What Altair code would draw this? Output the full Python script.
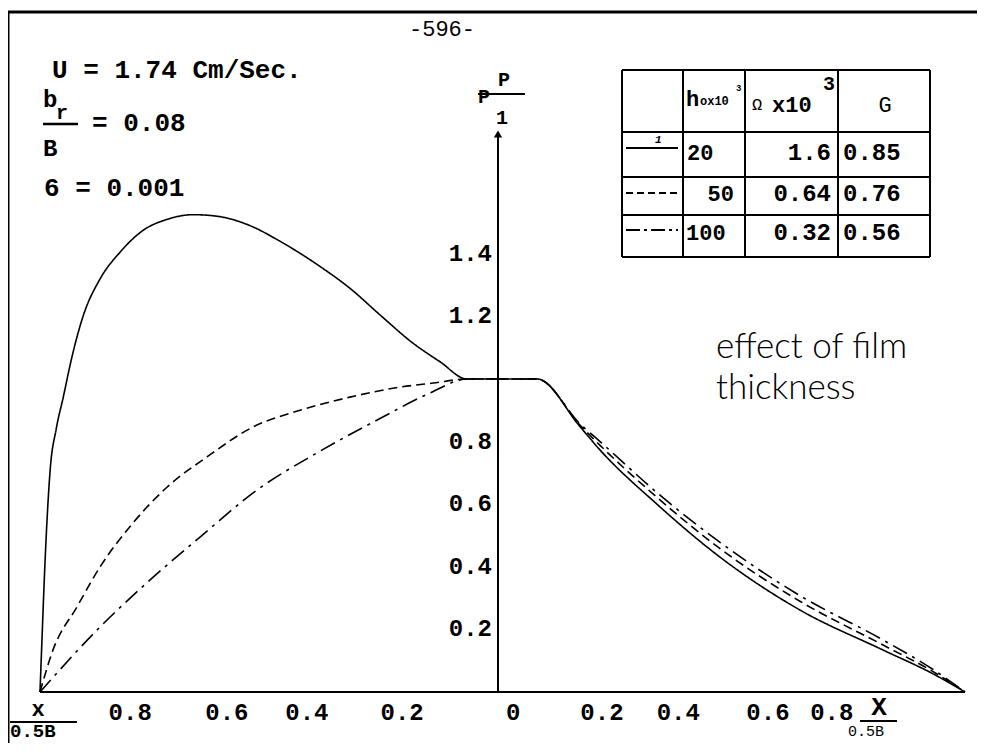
import altair as alt
import pandas as pd

# ---------------- data ----------------
# signed position along the bearing: left half negative (x/0.5B), right half positive (X/0.5B)
solid_s = [-1.0, -0.996, -0.989, -0.978, -0.965, -0.950, -0.931, -0.907, -0.870, -0.827, -0.777,
           -0.725, -0.669, -0.617, -0.546, -0.481, -0.395, -0.330, -0.265, -0.194, -0.135, -0.077,
           0.075, 0.168, 0.211, 0.334, 0.464, 0.643, 0.823, 0.931, 1.0]
solid_p = [0.0, 0.157, 0.42, 0.71, 0.84, 0.94, 1.07, 1.20, 1.32, 1.405, 1.475,
           1.51, 1.525, 1.52, 1.49, 1.44, 1.36, 1.29, 1.205, 1.115, 1.055, 1.0,
           1.0, 0.847, 0.773, 0.600, 0.438, 0.262, 0.134, 0.058, 0.0]

dashed_s = [-1.0, -0.972, -0.920, -0.870, -0.799, -0.725, -0.639, -0.539, -0.438, -0.330, -0.222,
            -0.150, -0.077, 0.075, 0.168, 0.211, 0.334, 0.464, 0.643, 0.823, 0.931, 1.0]
dashed_p = [0.0, 0.134, 0.272, 0.40, 0.54, 0.655, 0.751, 0.847, 0.90, 0.942, 0.974,
            0.987, 1.0, 1.0, 0.852, 0.788, 0.622, 0.465, 0.290, 0.150, 0.065, 0.0]

dashdot_s = [-1.0, -0.870, -0.762, -0.654, -0.531, -0.401, -0.271, -0.157, -0.077,
             0.075, 0.168, 0.211, 0.334, 0.464, 0.643, 0.823, 0.931, 1.0]
dashdot_p = [0.0, 0.208, 0.358, 0.495, 0.645, 0.764, 0.869, 0.955, 1.0,
             1.0, 0.856, 0.800, 0.637, 0.485, 0.308, 0.166, 0.072, 0.0]

series_names = ["h0=20", "h0=50", "h0=100"]

x_tick_pos = [-0.805, -0.596, -0.423, -0.217, 0.023, 0.215, 0.380, 0.574, 0.712]
x_tick_text = ["0.8", "0.6", "0.4", "0.2", "0", "0.2", "0.4", "0.6", "0.8"]
y_tick_vals = [0.2, 0.4, 0.6, 0.8, 1.2, 1.4]
y_tick_text = ["0.2", "0.4", "0.6", "0.8", "1.2", "1.4"]

table_h0 = ["20", "50", "100"]
table_omega = ["1.6", "0.64", "0.32"]
table_G = ["0.85", "0.76", "0.56"]

# ---------------- build ----------------
rows = []
for name, ss, pp in [(series_names[0], solid_s, solid_p),
                     (series_names[1], dashed_s, dashed_p),
                     (series_names[2], dashdot_s, dashdot_p)]:
    for i, (s, p) in enumerate(zip(ss, pp)):
        rows.append({"series": name, "s": s, "p": p, "i": i})
df = pd.DataFrame(rows)

OX, OY = 8, 8
MONO = "Liberation Mono"
SANS = "Lato"

xs = alt.Scale(domain=[-1, 1], range=[40 - OX, 965 - OX])
ys = alt.Scale(domain=[0, 1.8], range=[692 - OY, 692 - OY - 1.8 * 313])

one = pd.DataFrame({"a": [0]})


def vx(px):
    return alt.value(px - OX)


def vy(py):
    return alt.value(py - OY)


def hline(x1, x2, y, w=1.6, dash=None):
    kw = {"strokeDash": dash} if dash else {}
    return alt.Chart(one).mark_rule(color="black", strokeWidth=w, **kw).encode(
        x=vx(x1), x2=vx(x2), y=vy(y))


def vline(x, y1, y2, w=1.6):
    return alt.Chart(one).mark_rule(color="black", strokeWidth=w).encode(
        x=vx(x), y=vy(y1), y2=vy(y2))


def txt(s, x, y, size=24, font=MONO, align="left", weight="bold", style="normal",
        baseline="middle"):
    return alt.Chart(one).mark_text(
        text=s, fontSize=size, font=font, align=align, baseline=baseline,
        fontWeight=weight, fontStyle=style, color="black").encode(x=vx(x), y=vy(y))


layers = []

# curves
curves = alt.Chart(df).mark_line(color="black", strokeWidth=1.6, interpolate="monotone").encode(
    x=alt.X("s:Q", scale=xs, axis=None),
    y=alt.Y("p:Q", scale=ys, axis=None),
    strokeDash=alt.StrokeDash("series:N", scale=alt.Scale(domain=series_names,
                                                          range=[[1, 0], [9, 5], [16, 6, 3, 6]]),
                              legend=None),
    order="i:Q",
)
layers.append(curves)

# frame of the page
layers.append(vline(8, 12, 751, w=3))
layers.append(hline(8, 985, 12, w=3))

# axes
layers.append(hline(40, 965, 692, w=2))
layers.append(vline(498, 132, 692, w=2))
layers.append(alt.Chart(one).mark_point(shape="triangle-up", filled=True, color="black", size=70,
                                        opacity=1).encode(x=vx(498), y=vy(134)))

# tick labels
xt = pd.DataFrame({"pos": x_tick_pos, "lab": x_tick_text})
layers.append(alt.Chart(xt).mark_text(fontSize=24, font=MONO, fontWeight="bold", baseline="middle",
                                      align="center", color="black").encode(
    x=alt.X("pos:Q", scale=xs, axis=None), y=vy(713), text="lab:N"))
yt = pd.DataFrame({"val": y_tick_vals, "lab": y_tick_text})
layers.append(alt.Chart(yt).mark_text(fontSize=24, font=MONO, fontWeight="bold", baseline="middle",
                                      align="right", color="black").encode(
    x=vx(492), y=alt.Y("val:Q", scale=ys, axis=None), text="lab:N"))

# axis titles
layers.append(txt("x", 38, 709, size=22, align="center"))
layers.append(hline(10, 77, 722, w=2))
layers.append(txt("0.5B", 10, 731, size=19))
layers.append(txt("X", 879, 707, size=26, align="center"))
layers.append(hline(860, 897, 721, w=2))
layers.append(txt("0.5B", 848, 731, size=15, weight="normal"))

layers.append(txt("P", 504, 80, size=20, align="center"))
layers.append(hline(478, 525, 94, w=2))
layers.append(txt("P", 484, 97, size=20, align="center"))
layers.append(txt("1", 502, 118, size=20, align="center"))

# page number
layers.append(txt("-596-", 442, 29, size=22, weight="normal", align="center"))

# parameters
layers.append(txt("U = 1.74 Cm/Sec.", 52, 70, size=26))
layers.append(txt("b", 43, 100, size=24))
layers.append(txt("r", 56, 113, size=20))
layers.append(hline(43, 78, 124, w=2.5))
layers.append(txt("= 0.08", 92, 123, size=26))
layers.append(txt("B", 43, 149, size=24))
layers.append(txt("6  = 0.001", 44, 188, size=26))

# table
TL, TR, TT, TB = 622, 930, 70, 257
cols = [683, 745, 838]
rws = [132, 177, 215]
layers.append(hline(TL, TR, TT, w=2))
layers.append(hline(TL, TR, TB, w=2))
layers.append(vline(TL, TT, TB, w=2))
layers.append(vline(TR, TT, TB, w=2))
for c in cols:
    layers.append(vline(c, TT, TB, w=2))
for r in rws:
    layers.append(hline(TL, TR, r, w=2))

layers.append(txt("h", 686, 99, size=22))
layers.append(txt("ox10", 700, 101, size=12))
layers.append(txt("3", 736, 88, size=9))
layers.append(txt("Ω", 752, 105, size=17, weight="normal"))
layers.append(txt("x10", 772, 105, size=22))
layers.append(txt("3", 823, 84, size=20))
layers.append(txt("G", 885, 105, size=22, align="center", weight="normal"))

row_y = [153, 194, 233]
dashes = [None, [7, 4], [14, 4, 3, 4]]
for k in range(3):
    layers.append(hline(626, 678, [148, 193, 230][k], w=1.8, dash=dashes[k]))
layers.append(txt("1", 655, 140, size=11, style="italic"))

layers.append(txt(table_h0[0], 687, row_y[0], size=22))
layers.append(txt(table_h0[1], 734, row_y[1], size=22, align="right"))
layers.append(txt(table_h0[2], 686, row_y[2], size=22))
for k in range(3):
    layers.append(txt(table_omega[k], 831, row_y[k], size=24, align="right"))
    layers.append(txt(table_G[k], 843, row_y[k], size=24))

# annotation
layers.append(txt("effect of film", 716, 347, size=35, font=SANS, weight=300))
layers.append(txt("thickness", 716, 388, size=35, font=SANS, weight=300))

chart = alt.layer(*layers).properties(
    width=969, height=735, padding=0, autosize="none", background="white"
).configure_view(stroke=None)

chart.save("out.html", embed_options={"renderer": "svg", "actions": False})
